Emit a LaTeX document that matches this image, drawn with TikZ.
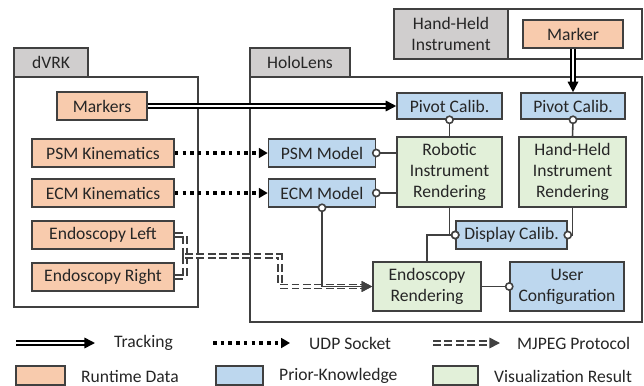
\documentclass[tikz,border=0pt]{standalone}
\usepackage{fontspec}
\setmainfont{Carlito}
\usetikzlibrary{arrows.meta}

\definecolor{linea}{HTML}{404040}
\definecolor{naranja}{HTML}{F8CBAD}
\definecolor{azul}{HTML}{BDD7EE}
\definecolor{verde}{HTML}{E2F0D9}
\definecolor{gris}{HTML}{D0CECE}

\begin{document}
\begin{tikzpicture}[x=0.02cm, y=-0.02cm,
    font=\fontsize{10}{12}\selectfont, text=black!85,
    caja/.style={draw=linea, line width=0.9pt, inner sep=0pt, align=center},
    runtime/.style={caja, fill=naranja, minimum height=0.56cm},
    prior/.style={caja, fill=azul, minimum height=0.56cm},
    visual/.style={caja, fill=verde},
    pestana/.style={caja, fill=gris},
    tracking/.style={draw=black, double=white, double distance=1.4pt, line width=0.9pt,
        -{Triangle[length=6pt, width=6pt]}},
    udp/.style={draw=black, line width=2pt, dash pattern=on 2pt off 2.4pt,
        -{Triangle[length=5pt, width=5.5pt]}},
    mjpeg/.style={draw=black!75, double=white, double distance=1.4pt, line width=0.9pt,
        dash pattern=on 4.5pt off 2pt, -{Triangle[length=6pt, width=6pt]}},
    enlace/.style={draw=linea, line width=0.9pt},
    bolita/.style={{Circle[open, fill=white, length=5pt, width=5pt]}-, shorten <=-2.5pt},
    bolitafin/.style={-{Circle[open, fill=white, length=5pt, width=5pt]}, shorten >=-2.5pt}]

    \useasboundingbox (0,0) rectangle (644,385);

    % Contenedores
    \draw[linea, line width=0.9pt] (14,77) rectangle (198,307);
    \node[pestana, minimum width=1.48cm, minimum height=0.58cm] (dvrk) at (51,62.5) {dVRK};
    \draw[linea, line width=0.9pt] (250,77) rectangle (642,322);
    \node[pestana, minimum width=2cm, minimum height=0.58cm] (holo) at (300,62.5) {HoloLens};
    \draw[linea, line width=0.9pt] (394,9) rectangle (642,59);
    \node[pestana, minimum width=2.28cm, minimum height=1cm] (hhi) at (451,34) {Hand-Held\\Instrument};

    % Datos de ejecucion
    \node[runtime, minimum width=1.8cm] (markers) at (102,106) {Markers};
    \node[runtime, minimum width=2.84cm] (psmkin) at (103,153) {PSM Kinematics};
    \node[runtime, minimum width=2.84cm] (ecmkin) at (103,193) {ECM Kinematics};
    \node[runtime, minimum width=2.84cm] (endol) at (103,235) {Endoscopy Left};
    \node[runtime, minimum width=2.84cm] (endor) at (103,277) {Endoscopy Right};
    \node[runtime, minimum width=2cm] (marker) at (573,34) {Marker};

    % Conocimiento previo
    \node[prior, minimum width=2.1cm, minimum height=0.52cm] (pivota) at (449.5,106) {Pivot Calib.};
    \node[prior, minimum width=2.08cm, minimum height=0.52cm] (pivotb) at (573,106) {Pivot Calib.};
    \node[prior, minimum width=2.14cm] (psmmod) at (322,153) {PSM Model};
    \node[prior, minimum width=2.14cm] (ecmmod) at (322,193) {ECM Model};
    \node[prior, minimum width=2.22cm] (dispcal) at (511.5,235) {Display Calib.};
    \node[prior, minimum width=2.28cm, minimum height=0.98cm] (usercfg) at (567,286.5) {User\\Configuration};

    % Resultados
    \node[visual, minimum width=2.1cm, minimum height=1.4cm] (robrend) at (449.5,172) {Robotic\\Instrument\\Rendering};
    \node[visual, minimum width=2.14cm, minimum height=1.4cm] (hhrend) at (572.5,172) {Hand-Held\\Instrument\\Rendering};
    \node[visual, minimum width=2.16cm, minimum height=0.98cm] (endorend) at (427,286.5) {Endoscopy\\Rendering};

    % Conexiones
    \draw[tracking] (markers) -- (pivota);
    \draw[tracking] (marker) -- (pivotb);
    \draw[udp] (psmkin) -- (psmmod);
    \draw[udp] (ecmkin) -- (ecmmod);

    \coordinate (mj) at (185,256);
    \coordinate (mk) at (280,256);
    \draw[mjpeg, -] (endol.east) -| (mj);
    \draw[mjpeg, -] (endor.east) -| (mj);
    \draw[mjpeg] (mj) -- (mk) |- (endorend.west);
    \draw[enlace, shorten <=-2.5pt,
        {Circle[open, fill=white, length=5pt, width=5pt]}-{Triangle[length=6pt, width=6pt]}]
        (ecmmod.south) |- (endorend.west);

    \draw[enlace, bolita] (pivota.south) -- (robrend.north);
    \draw[enlace, bolita] (pivotb.south) -- (hhrend.north);
    \draw[enlace, bolita] (psmmod.east) -- (robrend.west |- psmmod.east);
    \draw[enlace, bolita] (ecmmod.east) -- (robrend.west |- ecmmod.east);
    \draw[enlace, bolitafin] (robrend.south) |- (dispcal.west);
    \draw[enlace, bolitafin] (endorend.north) |- (dispcal.west);
    \draw[enlace, bolitafin] (hhrend.south) |- (dispcal.east);
    \draw[enlace, bolitafin] (endorend.east) -- (usercfg.west);

    % Leyenda
    \coordinate (ta) at (16,343);
    \coordinate (tb) at (95,343);
    \draw[tracking] (ta) -- (tb);
    \node[anchor=west] (ttrack) at (108,343) {Tracking};
    \coordinate (ua) at (213,343);
    \coordinate (ub) at (290,343);
    \draw[udp] (ua) -- (ub);
    \node[anchor=west] (tudp) at (303,343) {UDP Socket};
    \coordinate (ma) at (433,343);
    \coordinate (mb) at (500,343);
    \draw[mjpeg] (ma) -- (mb);
    \node[anchor=west] (tmjpeg) at (511,343) {MJPEG Protocol};

    \node[runtime, minimum width=0.98cm, minimum height=0.38cm] (lgrun) at (40.5,375.5) {};
    \node[anchor=west] (trun) at (75,376) {Runtime Data};
    \node[prior, minimum width=0.94cm, minimum height=0.38cm] (lgprior) at (239.5,375.5) {};
    \node[anchor=west] (tprior) at (273,376) {Prior-Knowledge};
    \node[visual, minimum width=0.9cm, minimum height=0.38cm] (lgvis) at (455.5,375.5) {};
    \node[anchor=west] (tvis) at (488,376) {Visualization Result};

\end{tikzpicture}
\end{document}
